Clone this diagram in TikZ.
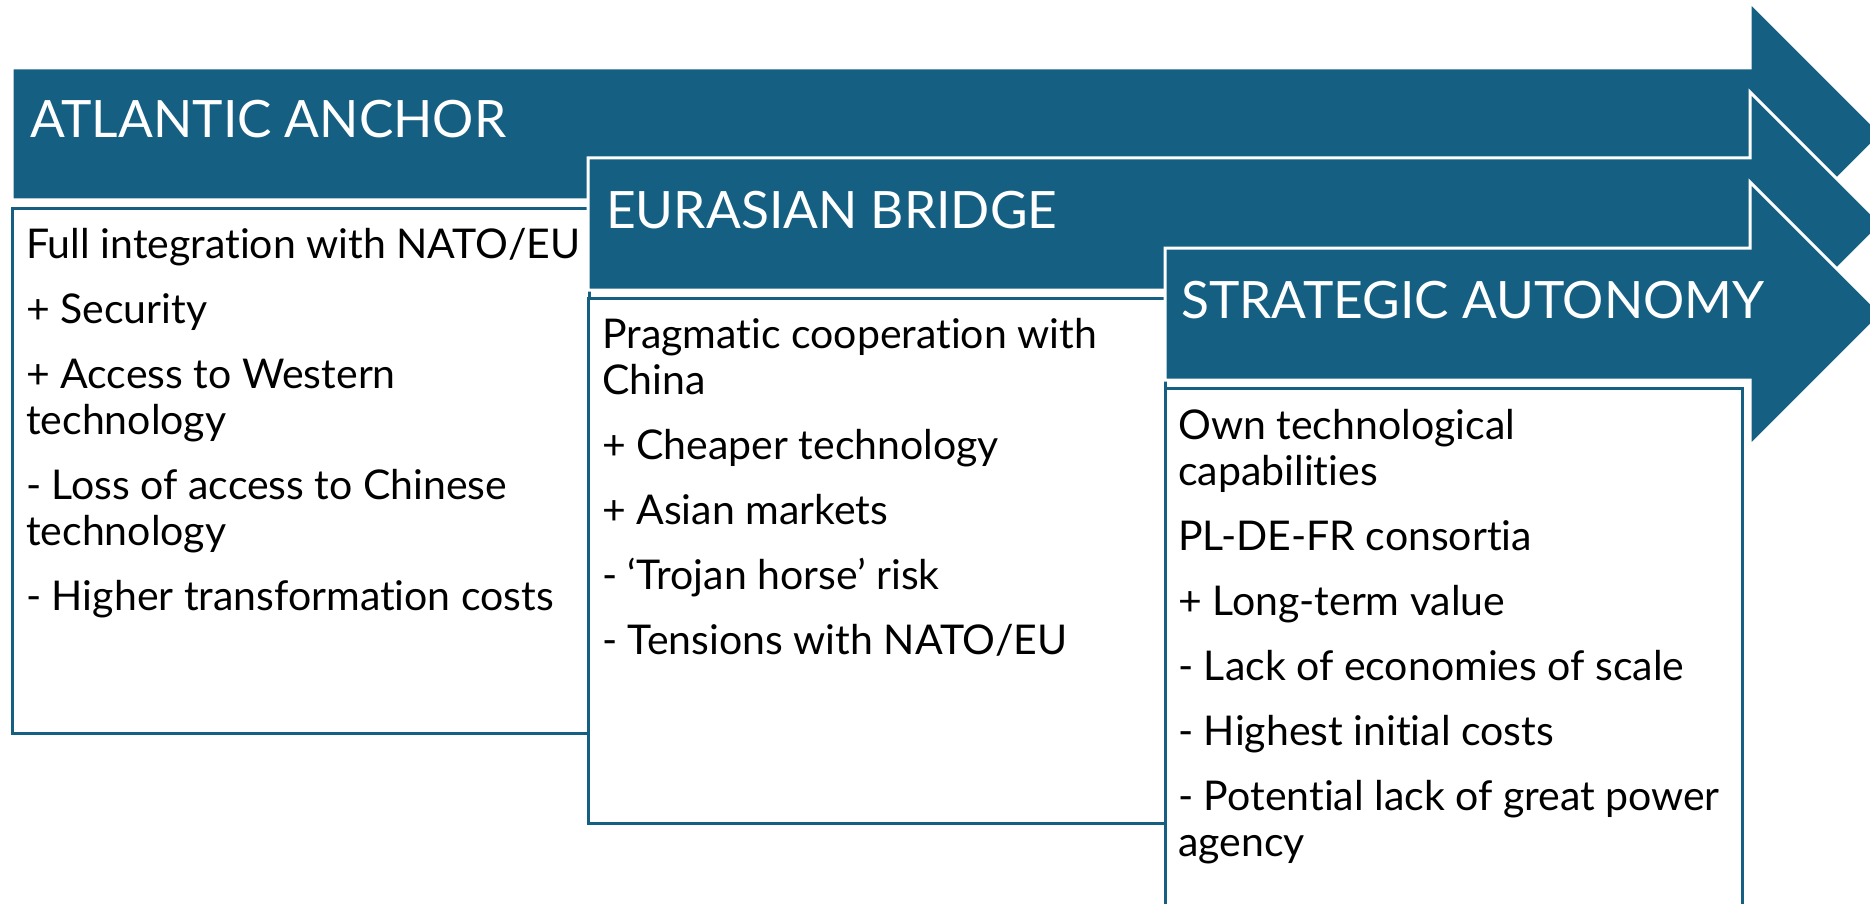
\documentclass[tikz,border=0pt]{standalone}
\usepackage{fontspec}
\setmainfont{Lato}[Ligatures=NoCommon]
\usepackage{tikz}
\definecolor{pathblue}{HTML}{156082}
\tikzstyle{band}=[fill=pathblue, draw=white, line width=3pt, line join=miter]
\tikzstyle{card}=[draw=pathblue, line width=3pt, fill=white]
\tikzstyle{title}=[anchor=base west, inner sep=0pt, text=white,
                   font=\fontsize{51.5}{60}\selectfont]
\tikzstyle{notes}=[anchor=north west, inner sep=0pt, align=left,
                   font=\fontsize{41}{46}\selectfont,
                   execute at begin node=\strut]

\begin{document}
\begin{tikzpicture}[x=1pt, y=-1pt]
    \useasboundingbox (0,0) rectangle (1870,904);
    \clip (0,0) rectangle (1870,904);
    % three arrows, each with its card below
    \foreach \l/\c in {12/134, 588/224, 1165/314} {
      \draw[band] (\l,\c-66) -- (1750,\c-66) -- (1750,\c-132) -- (1882,\c) --
      (1750,\c+132) -- (1750,\c+66) -- (\l,\c+66) -- cycle;
      \draw[card] (\l,\c+74) rectangle (\l+577,\c+599);
    }
    \node[title] (atlantic) at (30,138) {ATLANTIC ANCHOR};
    \node[title] (eurasian) at (606,228) {EURASIAN BRIDGE};
    \node[title] (strategic) at (1181,318) {STRATEGIC AUTONOMY};
    % top of first line = baseline - strut height
    \node[notes] (atlanticnotes) at (26,228) {Full integration with NATO/EU\\[19pt]
      + Security\\[19pt] + Access to Western\\technology\\[19pt]
      - Loss of access to Chinese\\technology\\[19pt] - Higher transformation costs};
    \node[notes] (eurasiannotes) at (602,318) {Pragmatic cooperation with\\China\\[19pt]
      + Cheaper technology\\[19pt] + Asian markets\\[19pt]
      - ‘Trojan horse’ risk\\[19pt] - Tensions with NATO/EU};
    \node[notes] (strategicnotes) at (1178,409) {Own technological\\capabilities\\[19pt]
      PL-DE-FR consortia\\[19pt] + Long-term value\\[19pt]
      - Lack of economies of scale\\[19pt] - Highest initial costs\\[19pt]
      - Potential lack of great power\\agency};
\end{tikzpicture}
\end{document}
